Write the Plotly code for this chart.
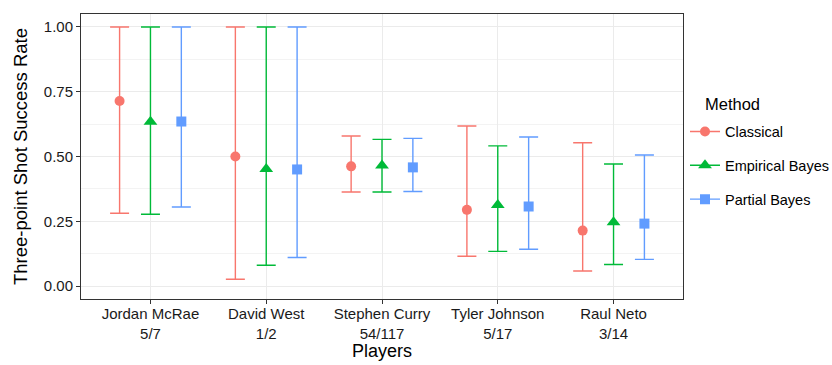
import plotly.graph_objects as go

# Players and their made/attempted three-point shots
players = ["Jordan McRae", "David West", "Stephen Curry", "Tyler Johnson", "Raul Neto"]
shots = ["5/7", "1/2", "54/117", "5/17", "3/14"]

methods = ["Classical", "Empirical Bayes", "Partial Bayes"]

# Point estimates and interval bounds per method
classical_est = [0.714, 0.500, 0.462, 0.294, 0.214]
classical_lo = [0.281, 0.026, 0.363, 0.115, 0.058]
classical_hi = [1.000, 1.000, 0.579, 0.618, 0.553]

eb_est = [0.634, 0.452, 0.465, 0.313, 0.246]
eb_lo = [0.277, 0.080, 0.363, 0.134, 0.083]
eb_hi = [1.000, 1.000, 0.566, 0.541, 0.471]

pb_est = [0.635, 0.450, 0.458, 0.307, 0.241]
pb_lo = [0.305, 0.110, 0.365, 0.142, 0.103]
pb_hi = [1.000, 1.000, 0.570, 0.575, 0.506]

y_ticks = [0.00, 0.25, 0.50, 0.75, 1.00]

series = [
    (classical_est, classical_lo, classical_hi),
    (eb_est, eb_lo, eb_hi),
    (pb_est, pb_lo, pb_hi),
]
colors = ["#F8766D", "#00BA38", "#619CFF"]
symbols = ["circle", "triangle-up", "square"]
sizes = [10, 12, 10]

dodge = 0.8
n_groups = len(methods)

fig = go.Figure()
for i, (name, (est, lo, hi)) in enumerate(zip(methods, series)):
    offset = (i - (n_groups - 1) / 2) * dodge / n_groups
    xs = [k + 1 + offset for k in range(len(players))]
    fig.add_trace(go.Scatter(
        x=xs, y=est, mode="markers", name=name, showlegend=False,
        marker=dict(color=colors[i], symbol=symbols[i], size=sizes[i], line=dict(width=0)),
        error_y=dict(type="data", symmetric=False,
                     array=[h - e for h, e in zip(hi, est)],
                     arrayminus=[e - l for e, l in zip(est, lo)],
                     color=colors[i], thickness=1.4, width=9.5),
    ))
    # legend key: line through marker
    fig.add_trace(go.Scatter(
        x=[None], y=[None], mode="lines+markers", name=name,
        legendgroup=name,
        line=dict(color=colors[i], width=1.4),
        marker=dict(color=colors[i], symbol=symbols[i], size=sizes[i], line=dict(width=0)),
    ))

fig.update_layout(
    width=832, height=365, autosize=False,
    margin=dict(l=81, r=149, t=14, b=66),
    paper_bgcolor="white", plot_bgcolor="white",
    font=dict(family="Liberation Sans, Arial, sans-serif", color="#000000"),
    showlegend=True,
    legend=dict(
        xref="container", yref="container",
        x=685 / 832, xanchor="left", y=(365 - 165.5) / 365, yanchor="middle",
        font=dict(size=14.5, color="#000000"),
        traceorder="grouped", tracegroupgap=12,
        bgcolor="rgba(0,0,0,0)", borderwidth=0,
    ),
    annotations=[dict(
        text="Method", x=1.033, xref="paper", xanchor="left",
        y=0.684, yref="paper", yanchor="middle", showarrow=False,
        font=dict(size=16.5, color="#000000"),
    )],
)

fig.update_xaxes(
    range=[0.4, 5.6], automargin=False,
    tickmode="array", tickvals=[k + 1 for k in range(len(players))],
    ticktext=[f"{p}<br>{s}" for p, s in zip(players, shots)],
    tickfont=dict(size=15, color="#1a1a1a"),
    ticklabelstandoff=-3,
    ticks="outside", ticklen=4, tickcolor="#333333", tickwidth=1,
    showgrid=True, gridcolor="#EBEBEB", gridwidth=1,
    showline=True, linecolor="#333333", linewidth=1, mirror=True,
    zeroline=False,
    title=dict(text="Players", font=dict(size=18), standoff=1),
)
fig.update_yaxes(
    range=[-0.05, 1.05], automargin=False,
    tickmode="array", tickvals=y_ticks, tickformat=".2f",
    tickfont=dict(size=15, color="#1a1a1a"),
    ticks="outside", ticklen=4, tickcolor="#333333", tickwidth=1,
    showgrid=True, gridcolor="#EBEBEB", gridwidth=1,
    minor=dict(tickvals=[0.125, 0.375, 0.625, 0.875], showgrid=True,
               gridcolor="#F3F3F3", gridwidth=1, ticks=""),
    showline=True, linecolor="#333333", linewidth=1, mirror=True,
    zeroline=False,
    title=dict(text="Three-point Shot Success Rate", font=dict(size=18.5), standoff=11),
)

fig.write_html("out.html")
